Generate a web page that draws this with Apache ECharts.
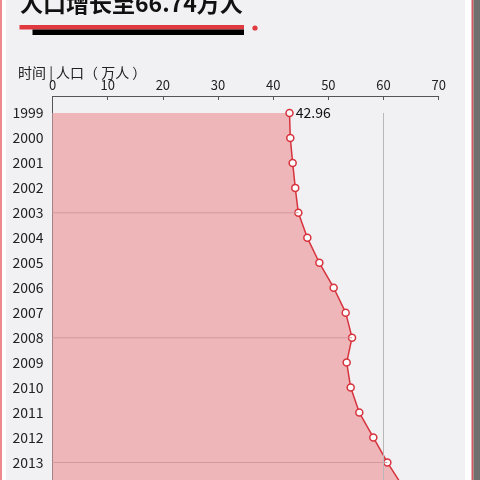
<!DOCTYPE html>
<html>
<head>
<meta charset="utf-8">
<script src="https://cdn.jsdelivr.net/npm/echarts@6/dist/echarts.min.js"></script>
<style>
html, body { margin: 0; padding: 0; background: #fff; }
#main { width: 480px; height: 480px; }
</style>
</head>
<body>
<div id="main"></div>
<script>
// 年份（纵轴类目）
var years = ['1999', '2000', '2001', '2002', '2003', '2004', '2005', '2006',
    '2007', '2008', '2009', '2010', '2011', '2012', '2013', '2014'];
// 人口（万人）
var population = [42.96, 43.1, 43.53, 44.0, 44.56, 46.19, 48.37, 50.96,
    53.14, 54.29, 53.32, 54.05, 55.61, 58.15, 60.69, 63.6];
// 画辅助横线的年份
var guideYears = ['2003', '2008', '2013'];
var xTicks = [0, 70, 10];

var guideData = years.map(function (y, i) {
    return guideYears.indexOf(y) >= 0 ? population[i] : '-';
});

var font = '"Noto Sans CJK SC", "Noto Sans", sans-serif';
var myChart = echarts.init(document.getElementById('main'));

var option = {
    backgroundColor: '#ffffff',
    textStyle: { fontFamily: font },
    graphic: [
        { type: 'rect', shape: { x: 6, y: 0, width: 459, height: 480 }, style: { fill: '#f1f1f3' }, z: -10 },
        { type: 'rect', shape: { x: 0, y: 0, width: 2, height: 480 }, style: { fill: '#ee8a8e' }, z: -10 },
        { type: 'rect', shape: { x: 471.5, y: 0, width: 2, height: 480 }, style: { fill: '#d2575d' }, z: -10 },
        { type: 'rect', shape: { x: 473.5, y: 0, width: 6.5, height: 480 }, style: { fill: '#6f6f6f' }, z: -10 },
        { type: 'rect', shape: { x: 19.5, y: 25, width: 224.5, height: 4.5 }, style: { fill: '#e0393f' } },
        { type: 'rect', shape: { x: 32.5, y: 29.5, width: 211.5, height: 5.5 }, style: { fill: '#000' } },
        { type: 'circle', shape: { cx: 255, cy: 28, r: 2.6 }, style: { fill: '#e0393f' } },
        { type: 'line', shape: { x1: 52.5, y1: 96, x2: 52.5, y2: 113 }, style: { stroke: '#555', lineWidth: 1 } }
    ],
    title: [{
        text: '人口增长至66.74万人',
        left: 15,
        top: -13,
        textStyle: { fontSize: 23, fontWeight: 'bold', color: '#111', fontFamily: font }
    }, {
        text: '时间 | 人口（ 万人 ）',
        left: 13,
        top: 61,
        textStyle: { fontSize: 14, fontWeight: 'normal', color: '#222', fontFamily: font }
    }],
    grid: {
        left: 52.5,
        width: 386.2,
        top: 113,
        height: 374.4,
        outerBoundsMode: 'none',
        containLabel: false
    },
    xAxis: {
        type: 'value',
        position: 'top',
        offset: 17,
        min: xTicks[0],
        max: xTicks[1],
        interval: xTicks[2],
        axisLine: { show: true, lineStyle: { color: '#555', width: 1 } },
        axisTick: { show: true, inside: true, length: 4, lineStyle: { color: '#555' } },
        axisLabel: { color: '#222', fontSize: 13, margin: 4, fontFamily: font },
        splitLine: { show: false }
    },
    yAxis: {
        type: 'category',
        data: years,
        inverse: true,
        boundaryGap: false,
        axisLine: { show: true, lineStyle: { color: '#555', width: 1 } },
        axisTick: { show: true, inside: true, length: 3, lineStyle: { color: '#777' } },
        axisLabel: { color: '#222', fontSize: 14, margin: 9, fontFamily: font },
        splitLine: { show: false }
    },
    series: [{
        name: '辅助线',
        type: 'bar',
        data: guideData,
        barWidth: 1,
        itemStyle: { color: '#d3999d' },
        silent: true,
        z: 3
    }, {
        name: '人口',
        type: 'line',
        data: population,
        symbol: 'circle',
        symbolSize: 7,
        lineStyle: { color: '#d7333d', width: 1.5 },
        itemStyle: { color: '#ffffff', borderColor: '#d7333d', borderWidth: 1.5 },
        areaStyle: { color: '#efb6b9', opacity: 1 },
        label: {
            show: true,
            position: 'right',
            distance: 2,
            color: '#111',
            fontSize: 14,
            fontFamily: font,
            formatter: function (p) {
                return p.dataIndex === 0 ? p.value : '';
            }
        },
        markLine: {
            silent: true,
            symbol: 'none',
            label: { show: false },
            lineStyle: { color: '#b8b8b8', width: 1, type: 'solid' },
            data: [{ xAxis: 60 }]
        },
        z: 2
    }]
};
myChart.setOption(option);
</script>
</body>
</html>
